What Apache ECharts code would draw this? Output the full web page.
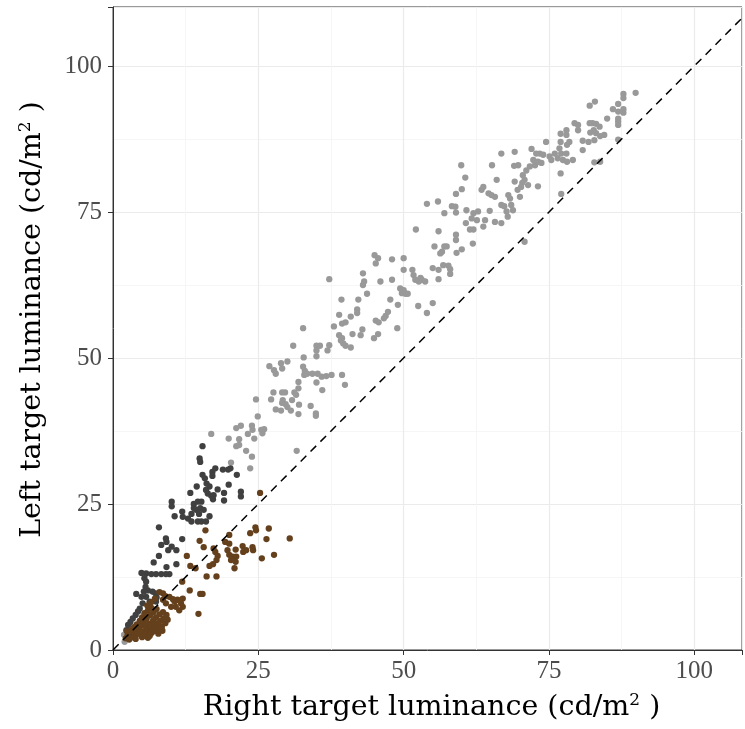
<!DOCTYPE html>
<html><head><meta charset="utf-8">
<script src="https://cdn.jsdelivr.net/npm/echarts@6/dist/echarts.min.js"></script>
<style>html,body{margin:0;padding:0;background:#fff}#c{width:745px;height:729px}</style>
</head><body><div id="c"></div>
<script>
const xTicks = [0, 25, 50, 75, 100];
const yTicks = [0, 25, 50, 75, 100];
const identityLine = [[0, 0], [120, 120]];

const lightGray = [
[89.9,95.4],[87.8,95.2],[87.8,94.5],[86.9,93.5],[87.8,92.6],[86.9,92.2],[87.8,92.0],[82.9,93.9],[82.0,93.2],[86.0,92.6],[85.0,91.0],[86.9,91.0],[86.9,90.5],[86.9,89.9],[79.4,90.2],[80.0,89.9],[80.0,89.0],[82.0,90.2],[82.5,90.2],[83.1,90.1],[83.7,89.6],[82.7,89.0],[82.1,88.6],[83.1,88.5],[83.8,88.0],[84.5,88.2],[82.8,87.3],[81.8,87.0],[77.0,88.4],[78.0,89.0],[78.0,88.2],[77.0,87.0],[78.5,87.0],[78.1,86.5],[80.8,87.2],[80.8,85.6],[86.9,87.4],[74.5,87.0],[72.0,85.8],[72.8,85.0],[73.4,85.0],[74.0,84.8],[75.1,84.5],[76.0,85.0],[76.8,85.9],[77.1,85.0],[78.0,85.0],[77.4,83.9],[76.5,84.2],[75.4,83.9],[79.1,83.9],[78.1,83.6],[77.0,81.6],[72.3,83.9],[72.6,83.0],[73.1,83.6],[73.7,83.4],[71.7,82.8],[71.1,82.1],[70.5,81.3],[70.8,80.5],[71.4,79.6],[69.6,78.8],[70.4,80.0],[70.2,79.3],[69.1,80.2],[69.0,82.9],[69.7,83.0],[69.1,85.3],[66.8,85.0],[65.2,83.0],[66.0,80.5],[63.7,79.3],[63.4,78.8],[64.6,78.2],[65.1,77.9],[65.7,77.6],[66.8,76.2],[67.3,76.0],[68.0,77.9],[68.3,77.3],[68.5,76.2],[68.8,75.3],[67.7,75.1],[67.9,74.2],[66.8,73.1],[65.7,73.3],[63.7,72.5],[64.0,73.6],[64.8,75.2],[62.8,75.1],[62.0,74.8],[61.7,73.9],[62.6,73.6],[73.1,79.4],[70.0,77.6],[77.1,78.1],[82.8,83.5],[83.8,83.6],
[60.8,75.3],[60.7,73.1],[61.4,72.0],[62.0,72.0],[61.9,69.6],[54.0,76.4],[55.9,76.8],[57.0,74.8],[58.3,76.0],[58.9,75.9],[59.0,74.9],[52.1,72.0],[56.0,71.7],[59.0,71.1],[59.0,70.2],[60.0,68.6],[59.1,68.0],[55.3,69.1],[56.6,68.2],[57.0,69.1],[57.4,69.1],[56.3,67.9],[55.0,65.4],[56.0,65.1],[56.0,63.5],[56.8,65.9],[57.7,65.8],[58.0,65.2],[58.0,64.4],[51.5,65.1],[51.7,64.2],[52.0,63.4],[52.6,63.1],[53.1,63.4],[53.7,63.1],[52.9,63.7],[50.0,67.1],[50.0,65.1],[48.0,66.9],[48.0,63.4],[45.0,67.6],[45.2,66.2],[45.6,67.1],[46.0,63.1],[43.0,64.5],[43.0,62.5],[43.2,63.1],[43.7,61.0],[49.4,61.9],[49.7,61.1],[50.3,61.0],[50.7,61.0],[50.0,61.6],[47.7,60.0],[49.0,59.1],[47.3,57.9],[46.9,57.2],[46.6,56.8],[45.2,56.4],[45.7,56.1],[42.2,60.0],[42.0,58.3],[42.0,57.7],[39.3,60.0],[38.9,57.4],[39.4,55.9],[40.0,56.1],[40.9,57.1],[38.0,55.4],[42.9,54.9],[42.6,53.9],[41.2,54.1],[38.9,53.9],[39.4,53.4],[52.5,58.9],[54.0,57.7],[55.0,59.4],[48.9,55.1],[45.6,54.1],[37.2,63.5],[44.9,53.4],
[59.9,83.0],[60.6,80.9],[59.0,78.1],[60.0,78.9],[70.8,69.9],
[32.7,55.1],[31.0,52.1],[35.0,52.1],[35.6,52.1],[35.0,51.3],[35.0,50.3],[37.2,52.2],[36.9,51.3],[32.8,50.1],[39.2,53.0],[39.6,52.5],[40.0,52.1],[40.9,51.8],[26.9,48.6],[27.7,47.9],[28.0,47.3],[28.9,49.1],[29.1,48.2],[30.0,49.4],[32.7,48.5],[33.0,47.8],[33.4,47.3],[34.3,47.3],[35.2,47.3],[35.9,46.8],[36.7,46.9],[37.6,47.1],[39.4,47.1],[32.9,47.1],[35.0,45.8],[36.0,44.5],[39.9,45.4],[31.9,45.9],[31.9,44.8],[31.2,44.1],[31.5,43.7],[30.8,42.8],[27.6,44.1],[27.2,42.9],[29.1,44.1],[29.6,44.1],[29.2,42.8],[29.1,42.3],[29.7,42.1],[30.0,41.6],[30.6,41.0],[28.0,41.2],[28.9,41.0],[32.0,42.0],[31.9,40.4],[34.0,41.8],[34.9,40.5],[34.9,40.1],[24.6,42.9],[24.9,40.0],[21.2,38.0],[22.0,38.4],[23.9,38.4],[24.0,37.7],[23.2,37.0],[24.3,36.2],[25.5,37.7],[26.0,37.8],[25.7,37.1],[21.7,36.1],[21.2,34.9],[21.7,35.1],[22.9,34.1],[23.9,33.1],[19.9,36.2],[16.9,37.0],[31.6,34.1],
[23.6,31.1],[20.3,32.1],[1.9,2.6],[2.0,1.4],[2.3,2.0]
];

const darkGray = [
[15.4,34.9],[14.9,32.8],[15.0,32.2],[17.6,31.1],[17.1,30.5],[18.9,30.9],[19.8,30.9],[20.2,31.1],[21.3,30.0],[15.4,30.0],[15.8,29.4],[16.1,28.5],[16.6,28.0],[17.1,29.8],[16.0,27.4],[16.3,26.8],[16.9,26.4],[17.2,25.8],[18.0,27.5],[19.1,26.9],[19.9,28.3],[17.3,26.5],[22.0,27.1],[22.0,26.3],[19.1,25.6],[13.3,26.9],[14.4,28.0],[10.1,25.4],[10.1,24.6],[13.9,25.0],[14.6,25.4],[15.2,25.4],[13.9,24.3],[14.3,24.0],[15.0,24.3],[15.6,24.0],[14.8,23.3],[13.5,23.3],[12.9,22.5],[13.5,22.0],[14.6,22.0],[15.2,22.0],[16.0,22.0],[16.6,22.9],[11.9,23.7],[12.0,22.8],[10.6,22.9],[7.9,21.0],[9.1,19.1],[9.2,18.5],[8.3,18.0],[10.1,17.7],[9.5,17.1],[10.9,17.1],[11.9,19.0],[7.9,16.1],[7.0,15.0],[9.2,14.2],[10.9,14.7],[4.9,13.2],[5.7,13.1],[6.6,13.0],[7.4,13.0],[8.3,13.0],[9.1,13.0],[9.7,13.0],[5.4,12.3],[5.7,11.7],[5.6,10.8],[5.3,10.0],[6.0,10.2],[4.0,9.6],[4.9,9.1],[5.7,9.1],[6.8,10.0],[7.3,9.7],[7.5,9.0],[6.3,8.3],[5.1,8.0],[4.6,7.1],[4.3,6.6],[3.9,6.0],[3.4,5.4],[3.0,4.8],[2.6,4.3],[2.3,3.4],[7.4,8.3]
];

const brown = [
[25.3,26.9],[15.9,20.5],[24.5,21.0],[24.6,20.5],[26.8,20.8],[23.6,20.0],[20.0,19.7],[19.3,18.5],[14.9,18.7],[15.6,17.6],[17.3,17.4],[17.6,16.8],[20.0,18.2],[19.7,17.1],[21.1,17.2],[22.3,17.8],[22.4,16.8],[22.9,17.1],[24.0,17.6],[24.1,17.1],[26.4,19.0],[30.4,19.1],[27.7,16.3],[25.6,15.7],[20.0,16.3],[20.6,16.0],[21.2,16.0],[20.3,15.4],[18.0,16.1],[17.8,15.4],[17.2,14.7],[16.6,14.4],[12.7,16.1],[13.3,14.4],[14.2,14.0],[21.1,15.1],[20.9,14.0],[16.1,12.6],[17.8,12.6],[11.9,11.7],[13.2,10.2],[15.0,9.6],[15.4,9.6],[14.7,6.2],[8.6,9.7],[9.0,9.2],[9.7,9.1],[10.3,8.7],[10.6,8.3],[11.1,8.6],[12.0,8.8],[11.7,8.0],[10.8,7.4],[12.0,7.4],[11.4,6.8],[10.0,7.4],[9.1,8.0],[8.6,8.6],
[2.2,2.0],[2.5,2.5],[2.4,3.2],[2.8,1.8],[3.0,2.6],[3.1,3.4],[3.3,2.2],[3.5,3.0],[3.6,3.9],[3.8,2.6],[4.0,3.4],[4.1,4.4],[4.3,2.8],[4.5,3.7],[4.6,5.0],[4.8,2.6],[4.9,4.2],[5.0,5.6],[5.2,3.2],[5.3,4.8],[5.4,6.3],[5.6,2.9],[5.7,3.9],[5.8,5.4],[6.0,6.8],[6.1,3.3],[6.2,4.5],[6.4,6.0],[6.5,2.8],[6.6,7.2],[6.7,3.8],[6.9,5.1],[7.0,6.5],[7.1,4.2],[7.3,3.3],[7.4,5.6],[7.5,7.0],[7.7,4.6],[7.9,3.7],[8.0,6.1],[8.2,5.0],[8.4,4.0],[8.6,6.5],[8.7,5.4],[9.0,4.6],[9.2,6.0],[9.4,5.2],[6.3,2.4],[5.0,2.2],[3.9,1.9],[7.8,2.8],[8.5,3.3],
[8.0,9.9],[7.2,8.8],[6.6,8.2],[5.9,7.6],[6.0,2.1],[6.8,3.1]
];

const TICKFONT = '"Liberation Serif", serif';
const TITLEFONT = '"DejaVu Serif", serif';
const chart = echarts.init(document.getElementById('c'), null, {renderer: 'canvas'});
const nameRich = {
  sup: {fontSize: 17, fontFamily: TITLEFONT, color: '#000', verticalAlign: 'top', padding: [0, 0, 15, 0]}
};
chart.setOption({
  animation: false,
  backgroundColor: '#fff',
  grid: {left: 113, right: 0, top: 7, bottom: 79, show: true, borderColor: '#333', borderWidth: 1},
  xAxis: {
    type: 'value', min: 0, max: 108.2, interval: 25,
    name: 'Right target luminance (cd/m{sup|2} )', nameLocation: 'middle', nameGap: 42,
    nameTextStyle: {fontFamily: TITLEFONT, fontSize: 28.5, color: '#000', rich: nameRich, padding: [0, 0, 0, 8]},
    axisLine: {show: true, onZero: false, lineStyle: {color: '#333', width: 1}},
    axisTick: {show: true, length: 5, lineStyle: {color: '#333'}},
    axisLabel: {fontFamily: TICKFONT, fontSize: 25, color: '#4d4d4d', margin: 9,
      formatter: v => xTicks.includes(v) ? String(v) : ''},
    splitLine: {show: true, lineStyle: {color: '#ebebeb', width: 1.2}},
    minorTick: {show: false, splitNumber: 2},
    minorSplitLine: {show: true, lineStyle: {color: '#f4f4f4', width: 0.8}}
  },
  yAxis: {
    type: 'value', min: 0, max: 110.1, interval: 25,
    name: 'Left target luminance (cd/m{sup|2} )', nameLocation: 'middle', nameGap: 64,
    nameTextStyle: {fontFamily: TITLEFONT, fontSize: 28.5, color: '#000', rich: nameRich, padding: [0, 0, 0, 18]},
    axisLine: {show: true, onZero: false, lineStyle: {color: '#333', width: 1}},
    axisTick: {show: true, length: 5, lineStyle: {color: '#333'}},
    axisLabel: {fontFamily: TICKFONT, fontSize: 25, color: '#4d4d4d', margin: 11,
      formatter: v => yTicks.includes(v) ? String(v) : ''},
    splitLine: {show: true, lineStyle: {color: '#ebebeb', width: 1.2}},
    minorTick: {show: false, splitNumber: 2},
    minorSplitLine: {show: true, lineStyle: {color: '#f4f4f4', width: 0.8}}
  },
  series: [
    {type: 'scatter', data: lightGray, symbolSize: 6.3, itemStyle: {color: '#999999', opacity: 1}},
    {type: 'scatter', data: darkGray, symbolSize: 6.3, itemStyle: {color: '#404040', opacity: 1}},
    {type: 'scatter', data: brown, symbolSize: 6.3, itemStyle: {color: '#65401c', opacity: 1}},
    {type: 'line', data: identityLine, symbol: 'none', clip: true,
      lineStyle: {color: '#000', width: 1.5, type: [8, 6]}}
  ]
});
</script></body></html>
